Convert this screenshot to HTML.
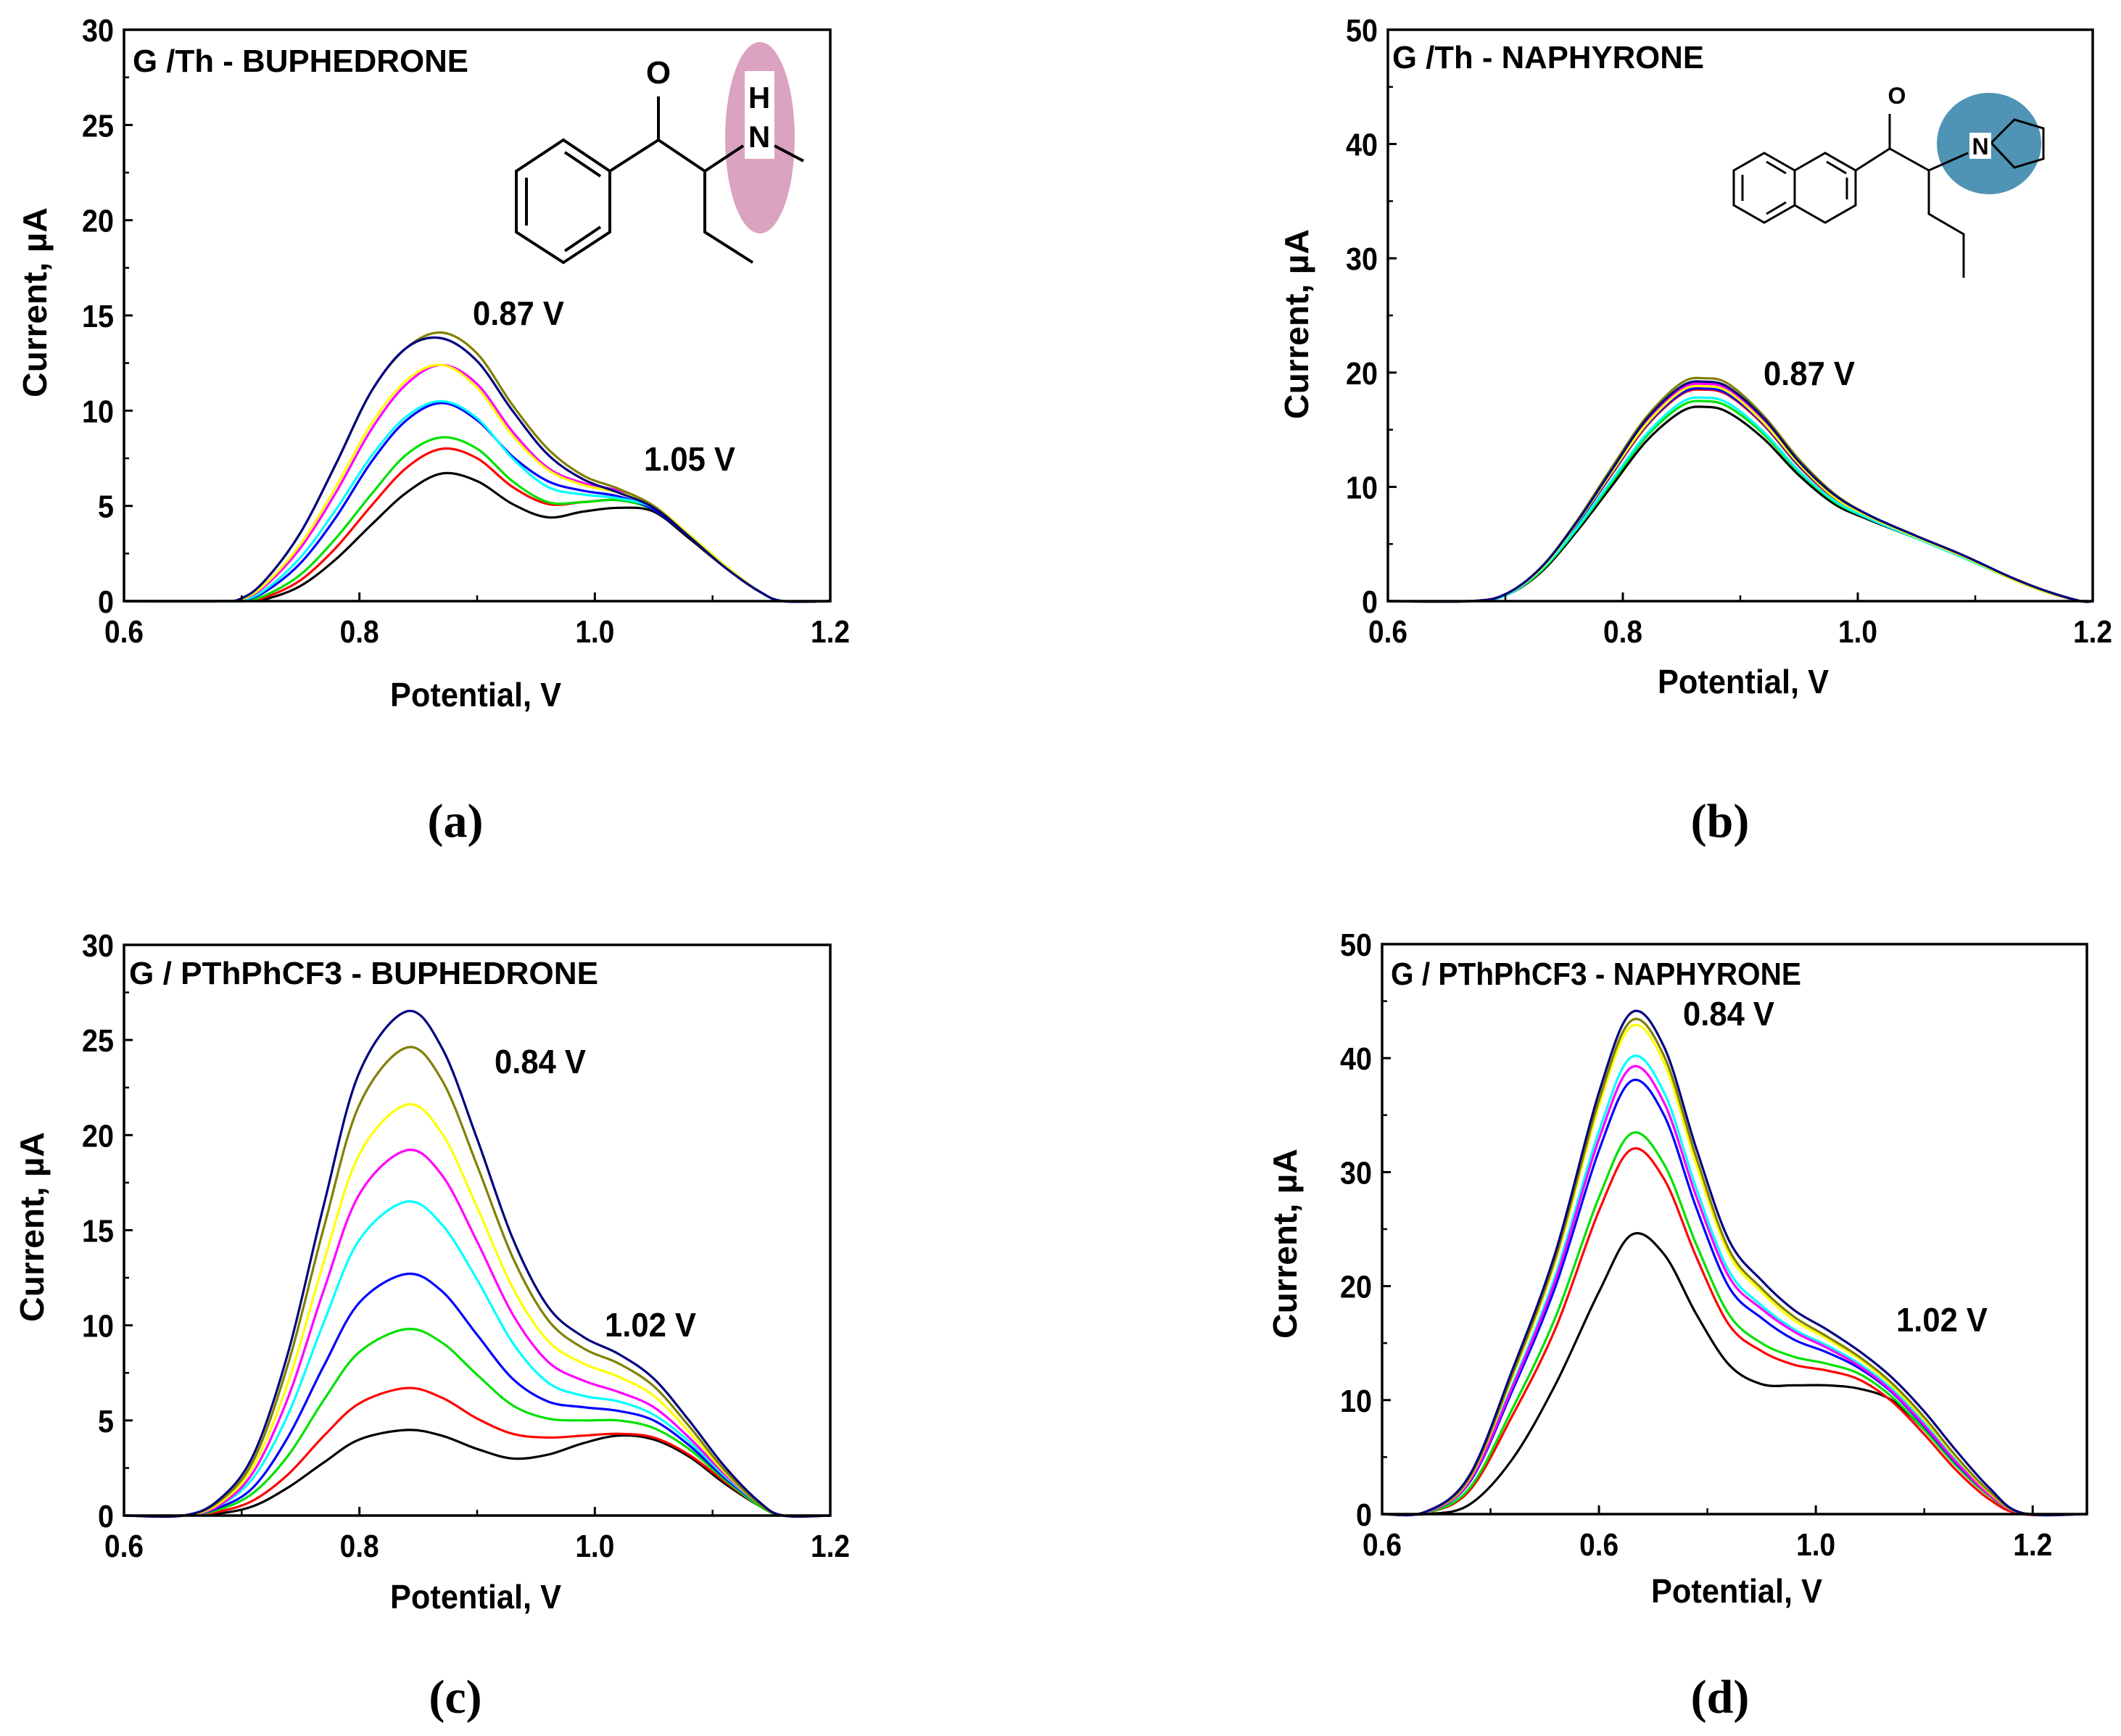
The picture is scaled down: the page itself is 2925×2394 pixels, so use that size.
<!DOCTYPE html>
<html><head><meta charset="utf-8"><style>
html,body{margin:0;padding:0;background:#fff;}
svg{display:block;}
</style></head><body>
<svg id="fig" width="2925" height="2394" viewBox="0 0 2925 2394" xmlns="http://www.w3.org/2000/svg">
<g stroke="#000" stroke-width="4" fill="none">
<ellipse cx="1048" cy="190" rx="48" ry="132" fill="#dba3bf" stroke="none"/>
<rect x="1027" y="98" width="41" height="121" fill="#fff" stroke="none"/>
<polygon points="777,193 841,236 841,320 777,362 712,320 712,236"/>
<line x1="779" y1="210" x2="828" y2="243"/><line x1="828" y1="313" x2="779" y2="346"/><line x1="726" y1="245" x2="726" y2="311"/>
<polyline points="841,236 908,193 972,236 1025,201"/>
<line x1="908" y1="193" x2="908" y2="133"/>
<polyline points="972,236 972,320 1038,362"/>
<line x1="1068" y1="201" x2="1108" y2="222"/>
</g>
<text x="908" y="115" font-family="Liberation Sans, sans-serif" font-size="44" font-weight="bold" text-anchor="middle">O</text>
<text x="1047" y="149" font-family="Liberation Sans, sans-serif" font-size="42" font-weight="bold" text-anchor="middle">H</text>
<text x="1047" y="203" font-family="Liberation Sans, sans-serif" font-size="42" font-weight="bold" text-anchor="middle">N</text>
<g stroke="#000" stroke-width="3" fill="none">
<ellipse cx="2743" cy="198" rx="72" ry="70" fill="#4f93b5" stroke="none"/>
<polygon points="2433,211 2475,235 2475,283 2433,307 2391,283 2391,235"/>
<polygon points="2475,235 2517,211 2559,235 2559,283 2517,307 2475,283"/>
<line x1="2403" y1="241" x2="2403" y2="277"/><line x1="2436" y1="223" x2="2463" y2="239"/><line x1="2436" y1="295" x2="2463" y2="279"/>
<line x1="2519" y1="223" x2="2546" y2="239"/><line x1="2547" y1="245" x2="2547" y2="275"/>
<polyline points="2559,235 2606,205 2660,235 2714,211"/>
<line x1="2606" y1="205" x2="2606" y2="157"/>
<polyline points="2660,235 2660,295 2708,323 2708,383"/>
<polygon points="2746,197 2778,165 2818,177 2818,219 2778,231" />
</g>
<rect x="2716" y="183" width="30" height="36" fill="#fff"/>
<text x="2731" y="213" font-family="Liberation Sans, sans-serif" font-size="32" font-weight="bold" text-anchor="middle">N</text>
<text x="2616" y="143" font-family="Liberation Sans, sans-serif" font-size="32" font-weight="bold" text-anchor="middle">O</text>
</svg>
<script>
const a_x = [0.6,0.68,0.70,0.72,0.75,0.78,0.81,0.84,0.87,0.90,0.93,0.96,0.99,1.02,1.05,1.08,1.11,1.14,1.16,1.2];
const a_black   = [0,0,0,0.1,0.8,2.2,4.0,5.7,6.7,6.3,5.1,4.4,4.7,4.9,4.7,3.3,1.8,0.5,0,0];
const a_red     = [0,0,0,0.2,1.1,2.8,5.0,7.0,8.0,7.5,6.0,5.1,5.2,5.3,4.8,3.4,1.8,0.5,0,0];
const a_green   = [0,0,0,0.3,1.4,3.3,5.6,7.7,8.6,8.0,6.3,5.2,5.2,5.3,4.8,3.4,1.8,0.5,0,0];
const a_blue    = [0,0,0.05,0.5,2.0,4.4,7.3,9.5,10.4,9.5,7.6,6.3,5.8,5.5,4.8,3.4,1.8,0.5,0,0];
const a_cyan    = [0,0,0.05,0.6,2.3,4.8,7.6,9.7,10.5,9.6,7.5,6.0,5.6,5.4,4.9,3.5,1.9,0.5,0,0];
const a_magenta = [0,0,0.1,0.8,2.8,5.7,9.0,11.4,12.4,11.4,8.9,7.0,6.2,5.8,5.0,3.4,1.8,0.5,0,0];
const a_yellow  = [0,0,0.1,0.9,3.0,6.0,9.3,11.6,12.4,11.2,8.7,6.9,6.1,5.7,5.0,3.5,1.9,0.5,0,0];
const a_olive   = [0,0,0.15,1.1,3.6,7.2,11.0,13.3,14.1,13.0,10.3,8.0,6.6,5.9,5.0,3.4,1.8,0.5,0,0];
const a_navy    = [0,0,0.15,1.1,3.6,7.2,11.0,13.3,13.8,12.6,10.0,7.7,6.4,5.7,4.9,3.4,1.8,0.5,0,0];
const b_x = [0.6,0.67,0.70,0.73,0.76,0.79,0.82,0.85,0.87,0.89,0.92,0.95,0.98,1.01,1.05,1.09,1.13,1.16,1.19,1.2];
const b_black   = [0,0,0.5,2.5,6,10,14,16.6,17,16.5,14.2,11,8.5,7.1,5.5,3.8,2,0.8,0,0];
const b_red     = [0,0,0.6,2.8,6.6,11,15.3,18.1,18.5,18,15.4,11.8,9,7.3,5.6,3.9,2,0.8,0,0];
const b_green   = [0,0,0.5,2.6,6.2,10.3,14.4,17.1,17.5,17,14.6,11.3,8.7,7.2,5.5,3.8,2,0.8,0,0];
const b_blue    = [0,0,0.6,2.8,6.6,11.1,15.4,18.2,18.6,18.1,15.5,11.9,9.1,7.4,5.6,3.9,2,0.8,0,0];
const b_cyan    = [0,0,0.5,2.7,6.3,10.5,14.6,17.4,17.8,17.3,14.8,11.4,8.8,7.2,5.5,3.8,2,0.8,0,0];
const b_magenta = [0,0,0.6,2.9,6.8,11.3,15.7,18.6,19.0,18.5,15.8,12.1,9.2,7.4,5.6,3.9,2.1,0.8,0,0];
const b_yellow  = [0,0,0.6,2.8,6.7,11.2,15.5,18.4,18.8,18.3,15.6,12,9.1,7.4,5.6,3.9,2,0.8,0,0];
const b_olive   = [0,0,0.6,2.9,6.9,11.6,16.1,19.1,19.5,19,16.2,12.4,9.4,7.5,5.7,4,2.1,0.9,0,0];
const b_navy    = [0,0,0.6,2.9,6.8,11.4,15.9,18.8,19.2,18.7,16,12.2,9.3,7.5,5.7,4,2.1,0.9,0,0];
const c_x = [0.6,0.65,0.68,0.71,0.74,0.77,0.80,0.84,0.87,0.90,0.93,0.96,0.99,1.02,1.05,1.08,1.11,1.14,1.16,1.2];
const c_black   = [0,0,0.1,0.5,1.5,2.8,4.0,4.5,4.2,3.5,3.0,3.2,3.8,4.2,4.0,3.1,1.7,0.5,0,0];
const c_red     = [0,0,0.2,0.8,2.2,4.2,5.9,6.7,6.2,5.1,4.3,4.1,4.2,4.3,4.1,3.2,1.8,0.5,0,0];
const c_green   = [0,0,0.3,1.2,3.2,6.1,8.6,9.8,9.1,7.4,5.8,5.1,5.0,5.0,4.6,3.5,1.9,0.5,0,0];
const c_blue    = [0,0,0.4,1.5,4.2,7.9,11.2,12.7,11.8,9.5,7.2,6,5.7,5.5,5.0,3.7,2,0.6,0,0];
const c_cyan    = [0,0,0.5,2,5.4,10.2,14.5,16.5,15.3,12.4,9.1,7,6.3,6.0,5.3,3.9,2.1,0.6,0,0];
const c_magenta = [0,0,0.5,2.3,6.3,11.9,16.9,19.2,17.9,14.4,10.6,8.1,7.1,6.5,5.7,4.1,2.2,0.6,0,0];
const c_yellow  = [0,0,0.6,2.6,7.1,13.4,19,21.6,20.1,16.2,12,9.2,8.0,7.3,6.3,4.4,2.3,0.6,0,0];
const c_olive   = [0,0,0.7,2.9,8.1,15.2,21.6,24.6,22.9,18.4,13.6,10.3,8.8,8.0,6.8,4.7,2.4,0.6,0,0];
const c_navy    = [0,0,0.8,3.2,8.7,16.4,23.3,26.5,24.6,19.8,14.6,11,9.4,8.5,7.2,5,2.6,0.7,0,0];
const d_x = [0.6,0.64,0.68,0.72,0.76,0.80,0.83,0.86,0.89,0.92,0.95,0.98,1.01,1.04,1.07,1.10,1.13,1.16,1.19,1.25];
const d_black   = [0,0,0.8,4.8,11.4,19.5,24.5,22.8,17.5,13.1,11.4,11.3,11.3,11,10,7.4,4.2,1.6,0.1,0];
const d_red     = [0,0.1,2,8.6,16.3,26.6,32,29.4,22.5,16.6,14.3,13.1,12.6,11.8,9.9,7,3.8,1.3,0,0];
const d_green   = [0,0.1,2.2,9.2,17.3,27.8,33.4,30.7,23.6,17.5,15,13.8,13.2,12.3,10.3,7.4,4.2,1.6,0.1,0];
const d_blue    = [0,0.15,2.7,10.8,20,31.9,38,35,26.8,19.9,17.2,15.3,14.2,12.8,10.7,7.7,4.4,1.7,0.1,0];
const d_cyan    = [0,0.15,2.8,11.3,21,33.6,40.1,37,28.5,21.3,18.3,16.2,14.8,13.2,11,8,4.6,1.8,0.1,0];
const d_magenta = [0,0.15,2.8,11.1,20.6,32.9,39.2,36.1,27.8,20.8,18,16,14.6,13,10.8,7.8,4.5,1.7,0.1,0];
const d_yellow  = [0,0.2,3,12,22.2,35.8,42.8,39.6,30.6,22.8,19.5,17,15.4,13.6,11.3,8.3,4.9,1.9,0.1,0];
const d_olive   = [0,0.2,3.1,12.2,22.5,36.3,43.3,40.2,31.2,23.2,19.8,17.3,15.6,13.8,11.5,8.5,5,2,0.1,0];
const d_navy    = [0,0.2,3.3,12.6,23,37,44,41,32,24,20.5,17.9,16.2,14.3,12,9,5.5,2.3,0.1,0];
const yTicksA = [0,5,10,15,20,25,30];
const yTicksB = [0,10,20,30,40,50];
const xTicksStd = [0.6,0.8,1.0,1.2];
const xLabelsStd = ["0.6","0.8","1.0","1.2"];
const xTicksD = [0.6,0.8,1.0,1.2];
const xLabelsD = ["0.6","0.6","1.0","1.2"];
const seriesNames = ["black","red","green","blue","cyan","magenta","yellow","olive","navy"];
const seriesColors = ["#000000","#ff0000","#00e000","#0000ff","#00ffff","#ff00ff","#ffff00","#808000","#000080"];

const NS = "http://www.w3.org/2000/svg";
const svg = document.getElementById("fig");
const FONT = "Liberation Sans, Arial, sans-serif";

function mk(tag, attrs, parent) {
  const e = document.createElementNS(NS, tag);
  for (const k in attrs) e.setAttribute(k, attrs[k]);
  (parent || svg).appendChild(e);
  return e;
}
function txt(str, attrs, name, parent) {
  const e = mk("text", Object.assign({"font-family": FONT, "font-weight": "bold"}, attrs), parent);
  e.textContent = str;
  
  
  return e;
}
function smoothPath(pts) {
  let d = "M" + pts[0][0].toFixed(1) + "," + pts[0][1].toFixed(1);
  for (let i = 0; i < pts.length - 1; i++) {
    const p0 = pts[Math.max(0, i - 1)], p1 = pts[i], p2 = pts[i + 1], p3 = pts[Math.min(pts.length - 1, i + 2)];
    const c1x = p1[0] + (p2[0] - p0[0]) / 6, c1y = p1[1] + (p2[1] - p0[1]) / 6;
    const c2x = p2[0] - (p3[0] - p1[0]) / 6, c2y = p2[1] - (p3[1] - p1[1]) / 6;
    d += " C" + c1x.toFixed(1) + "," + c1y.toFixed(1) + " " + c2x.toFixed(1) + "," + c2y.toFixed(1) + " " + p2[0].toFixed(1) + "," + p2[1].toFixed(1);
  }
  return d;
}

function panel(cfg) {
  const g = mk("g", {});
  
  
  const L = cfg.L, R = cfg.R, T = cfg.T, B = cfg.B;
  const sx = v => L + (v - cfg.xmin) / (cfg.xmax - cfg.xmin) * (R - L);
  const sy = v => B - (v - cfg.ymin) / (cfg.ymax - cfg.ymin) * (B - T);
  const cg = mk("g", {}, g);
  
  
  cfg.series.forEach((ys, i) => {
    const pts = cfg.xs.map((x, j) => [sx(x), Math.min(B, sy(ys[j]))]);
    const p = mk("path", {d: smoothPath(pts), fill: "none", stroke: seriesColors[i], "stroke-width": 3.2, "stroke-linejoin": "round"}, cg);
    
    
  });
  const fr = mk("rect", {x: L, y: T, width: R - L, height: B - T, fill: "none", stroke: "#000", "stroke-width": 3.5}, g);
  
  
  const yStep = cfg.yTicks[1] - cfg.yTicks[0];
  cfg.yTicks.forEach((v, i) => {
    const y = sy(v);
    const t = mk("line", {x1: L, x2: L + 12, y1: y, y2: y, stroke: "#000", "stroke-width": 3}, g);
    
    
    txt(String(v), {x: L - 14, y: y + 16, "font-size": 44, "text-anchor": "end", textLength: String(v).length * 22, lengthAdjust: "spacingAndGlyphs"}, "y-tick-label", g);
    if (i < cfg.yTicks.length - 1) {
      const ym = sy(v + yStep / 2);
      const m = mk("line", {x1: L, x2: L + 7, y1: ym, y2: ym, stroke: "#000", "stroke-width": 2.5}, g);
      
      
    }
  });
  cfg.xTicks.forEach((v, i) => {
    const x = sx(v);
    const t = mk("line", {x1: x, x2: x, y1: B, y2: B - 12, stroke: "#000", "stroke-width": 3}, g);
    
    
    txt(cfg.xLabels[i], {x: x, y: B + 57, "font-size": 44, "text-anchor": "middle", textLength: 54, lengthAdjust: "spacingAndGlyphs"}, "x-tick-label", g);
    const xm = sx(v + 0.1);
    if (v + 0.1 < cfg.xmax) {
      const m = mk("line", {x1: xm, x2: xm, y1: B, y2: B - 8, stroke: "#000", "stroke-width": 2.5}, g);
      
      
    }
  });
  txt("Potential, V", {x: cfg.xt[0], y: cfg.xt[1], "font-size": 46, textLength: 236, lengthAdjust: "spacingAndGlyphs"}, "x-axis-title", g);
  txt("Current, \u00b5A", {x: 0, y: 0, "font-size": 46, "text-anchor": "middle", textLength: 262, lengthAdjust: "spacingAndGlyphs", transform: "translate(" + cfg.yt[0] + "," + cfg.yt[1] + ") rotate(-90)"}, "y-axis-title", g);
  txt(cfg.title, {x: cfg.tt[0], y: cfg.tt[1], "font-size": 44, textLength: cfg.tt[2], lengthAdjust: "spacingAndGlyphs"}, "panel-title", g);
  cfg.peaks.forEach(pk => {
    txt(pk[0], {x: pk[1], y: pk[2], "font-size": 46, textLength: 126, lengthAdjust: "spacingAndGlyphs"}, "peak-label", g);
  });
  const cap = mk("text", {x: cfg.cap[0], y: cfg.cap[1], "font-family": "Liberation Serif, serif", "font-size": 66, "font-weight": "bold", "text-anchor": "middle"}, g);
  cap.textContent = cfg.capText;
  
  
}

panel({name: "panel-a", L: 171, R: 1145, T: 41, B: 829, xmin: 0.6, xmax: 1.2, ymin: 0, ymax: 30,
  xs: a_x, series: [a_black, a_red, a_green, a_blue, a_cyan, a_magenta, a_yellow, a_olive, a_navy],
  yTicks: yTicksA, xTicks: xTicksStd, xLabels: xLabelsStd,
  xt: [538, 974], yt: [64, 417], tt: [183, 99, 463], title: "G /Th - BUPHEDRONE",
  peaks: [["0.87 V", 652, 448], ["1.05 V", 888, 649]], cap: [628, 1154], capText: "(a)"});
panel({name: "panel-b", L: 1914, R: 2886, T: 41, B: 829, xmin: 0.6, xmax: 1.2, ymin: 0, ymax: 50,
  xs: b_x, series: [b_black, b_red, b_green, b_blue, b_cyan, b_magenta, b_yellow, b_olive, b_navy],
  yTicks: yTicksB, xTicks: xTicksStd, xLabels: xLabelsStd,
  xt: [2286, 956], yt: [1804, 447], tt: [1920, 94, 430], title: "G /Th - NAPHYRONE",
  peaks: [["0.87 V", 2432, 531]], cap: [2372, 1154], capText: "(b)"});
panel({name: "panel-c", L: 171, R: 1145, T: 1303, B: 2090, xmin: 0.6, xmax: 1.2, ymin: 0, ymax: 30,
  xs: c_x, series: [c_black, c_red, c_green, c_blue, c_cyan, c_magenta, c_yellow, c_olive, c_navy],
  yTicks: yTicksA, xTicks: xTicksStd, xLabels: xLabelsStd,
  xt: [538, 2218], yt: [60, 1692], tt: [178, 1357, 647], title: "G / PThPhCF3 - BUPHEDRONE",
  peaks: [["0.84 V", 682, 1480], ["1.02 V", 834, 1843]], cap: [628, 2362], capText: "(c)"});
panel({name: "panel-d", L: 1906, R: 2878, T: 1302, B: 2088, xmin: 0.6, xmax: 1.25, ymin: 0, ymax: 50,
  xs: d_x, series: [d_black, d_red, d_green, d_blue, d_cyan, d_magenta, d_yellow, d_olive, d_navy],
  yTicks: yTicksB, xTicks: xTicksD, xLabels: xLabelsD,
  xt: [2277, 2210], yt: [1788, 1715], tt: [1918, 1358, 566], title: "G / PThPhCF3 - NAPHYRONE",
  peaks: [["0.84 V", 2321, 1414], ["1.02 V", 2615, 1836]], cap: [2372, 2362], capText: "(d)"});
</script>
</body></html>
